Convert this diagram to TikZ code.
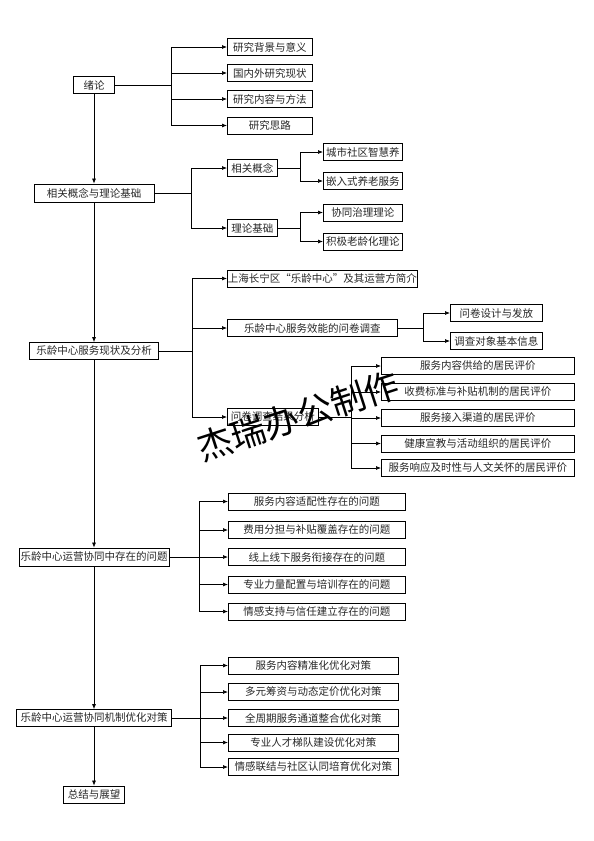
\documentclass[tikz,border=0pt]{standalone}
\usepackage{fontspec}
\setmainfont{Noto Sans CJK SC}
\usetikzlibrary{arrows.meta}

\begin{document}
\begin{tikzpicture}[x=1pt,y=-1pt,line width=0.7pt,>={Latex[length=5pt,width=4pt]},
  box/.style={draw,line width=0.8pt,inner sep=0pt,minimum height=17pt,font=\fontsize{10.5}{12}\selectfont,text=black!85},
  leaf/.style={box,anchor=west}]
  \useasboundingbox (0,0) rectangle (594,841);
  % main column
  \node[box,minimum width=41pt] (xl) at (94,85) {绪论};
  \node[box,minimum width=120pt,minimum height=18pt] (jc) at (94,193) {相关概念与理论基础};
  \node[box,minimum width=129pt] (xz) at (94,351) {乐龄中心服务现状及分析};
  \node[box,minimum width=150pt,minimum height=18pt] (wt) at (94,557) {乐龄中心运营协同中存在的问题};
  \node[box,minimum width=155pt] (yh) at (94,718) {乐龄中心运营协同机制优化对策};
  \node[box,minimum width=61pt] (zj) at (94,794.5) {总结与展望};
  \draw[->] (xl) -- (jc);
  \draw[->] (jc) -- (xz);
  \draw[->] (xz) -- (wt);
  \draw[->] (wt) -- (yh);
  \draw[->] (yh) -- (zj);
  % 绪论
  \node[leaf,minimum width=85pt] (bj) at (227,47) {研究背景与意义};
  \node[leaf,minimum width=85pt] (gn) at (227,73) {国内外研究现状};
  \node[leaf,minimum width=85pt] (nr) at (227,99) {研究内容与方法};
  \node[leaf,minimum width=85pt] (sl) at (227,125.5) {研究思路};
  \coordinate (t1) at (171,85);
  \draw (xl.east) -- (t1);
  \draw[->] (t1) |- (bj.west);
  \draw[->] (t1) |- (gn.west);
  \draw[->] (t1) |- (nr.west);
  \draw[->] (t1) |- (sl.west);
  % 相关概念与理论基础
  \node[leaf,minimum width=50pt] (gainian) at (227,168) {相关概念};
  \node[leaf,minimum width=50pt] (lilun) at (227,228) {理论基础};
  \coordinate (t2) at (191,193);
  \draw (jc.east) -- (t2);
  \draw[->] (t2) |- (gainian.west);
  \draw[->] (t2) |- (lilun.west);
  \node[leaf,minimum width=79pt] (zh) at (323,152) {城市社区智慧养};
  \node[leaf,minimum width=79pt] (qr) at (323,181) {嵌入式养老服务};
  \node[leaf,minimum width=79pt] (xt) at (323,212.5) {协同治理理论};
  \node[leaf,minimum width=79pt] (jj) at (323,241.5) {积极老龄化理论};
  \coordinate (t2a) at (300,168); \coordinate (t2b) at (300,228);
  \draw (gainian.east) -- (t2a);
  \draw[->] (t2a) |- (zh.west);
  \draw[->] (t2a) |- (qr.west);
  \draw (lilun.east) -- (t2b);
  \draw[->] (t2b) |- (xt.west);
  \draw[->] (t2b) |- (jj.west);
  % 乐龄中心服务现状及分析
  \node[leaf,minimum width=190pt] (jianjie) at (227,278.5) {上海长宁区“乐龄中心”及其运营方简介};
  \node[leaf,minimum width=170pt] (diaocha) at (227,328) {乐龄中心服务效能的问卷调查};
  \node[leaf,minimum width=91pt] (fenxi) at (227,417) {问卷调查结果分析};
  \coordinate (t3) at (192,351);
  \draw (xz.east) -- (t3);
  \draw[->] (t3) |- (jianjie.west);
  \draw[->] (t3) |- (diaocha.west);
  \draw[->] (t3) |- (fenxi.west);
  \node[leaf,minimum width=92pt] (sheji) at (450,313) {问卷设计与发放};
  \node[leaf,minimum width=92pt] (duixiang) at (450,341) {调查对象基本信息};
  \coordinate (t3a) at (423,328);
  \draw (diaocha.east) -- (t3a);
  \draw[->] (t3a) |- (sheji.west);
  \draw[->] (t3a) |- (duixiang.west);
  \node[leaf,minimum width=193pt] (p1) at (381,366) {服务内容供给的居民评价};
  \node[leaf,minimum width=193pt] (p2) at (381,392) {收费标准与补贴机制的居民评价};
  \node[leaf,minimum width=193pt] (p3) at (381,418) {服务接入渠道的居民评价};
  \node[leaf,minimum width=193pt] (p4) at (381,443.5) {健康宣教与活动组织的居民评价};
  \node[leaf,minimum width=193pt] (p5) at (381,468) {服务响应及时性与人文关怀的居民评价};
  \coordinate (t3b) at (351,417);
  \draw (fenxi.east) -- (t3b);
  \draw[->] (t3b) |- (p1.west);
  \draw[->] (t3b) |- (p2.west);
  \draw[->] (t3b) |- (p3.west);
  \draw[->] (t3b) |- (p4.west);
  \draw[->] (t3b) |- (p5.west);
  % 存在的问题
  \node[leaf,minimum width=177pt] (q1) at (228,501.5) {服务内容适配性存在的问题};
  \node[leaf,minimum width=177pt] (q2) at (228,530) {费用分担与补贴覆盖存在的问题};
  \node[leaf,minimum width=177pt] (q3) at (228,557) {线上线下服务衔接存在的问题};
  \node[leaf,minimum width=177pt] (q4) at (228,584.5) {专业力量配置与培训存在的问题};
  \node[leaf,minimum width=177pt] (q5) at (228,611.5) {情感支持与信任建立存在的问题};
  \coordinate (t4) at (199,557);
  \draw (wt.east) -- (t4);
  \draw[->] (t4) |- (q1.west);
  \draw[->] (t4) |- (q2.west);
  \draw[->] (t4) |- (q3.west);
  \draw[->] (t4) |- (q4.west);
  \draw[->] (t4) |- (q5.west);
  % 优化对策
  \node[leaf,minimum width=170pt] (r1) at (228,665.5) {服务内容精准化优化对策};
  \node[leaf,minimum width=170pt] (r2) at (228,692) {多元筹资与动态定价优化对策};
  \node[leaf,minimum width=170pt] (r3) at (228,718) {全周期服务通道整合优化对策};
  \node[leaf,minimum width=170pt] (r4) at (228,742.5) {专业人才梯队建设优化对策};
  \node[leaf,minimum width=170pt] (r5) at (228,767) {情感联结与社区认同培育优化对策};
  \coordinate (t5) at (200,718);
  \draw (yh.east) -- (t5);
  \draw[->] (t5) |- (r1.west);
  \draw[->] (t5) |- (r2.west);
  \draw[->] (t5) |- (r3.west);
  \draw[->] (t5) |- (r4.west);
  \draw[->] (t5) |- (r5.west);
  % watermark
  \node[rotate=18,font=\fontsize{35}{35}\selectfont] (wm) at (298,416) {杰瑞办公制作};
\end{tikzpicture}
\end{document}
